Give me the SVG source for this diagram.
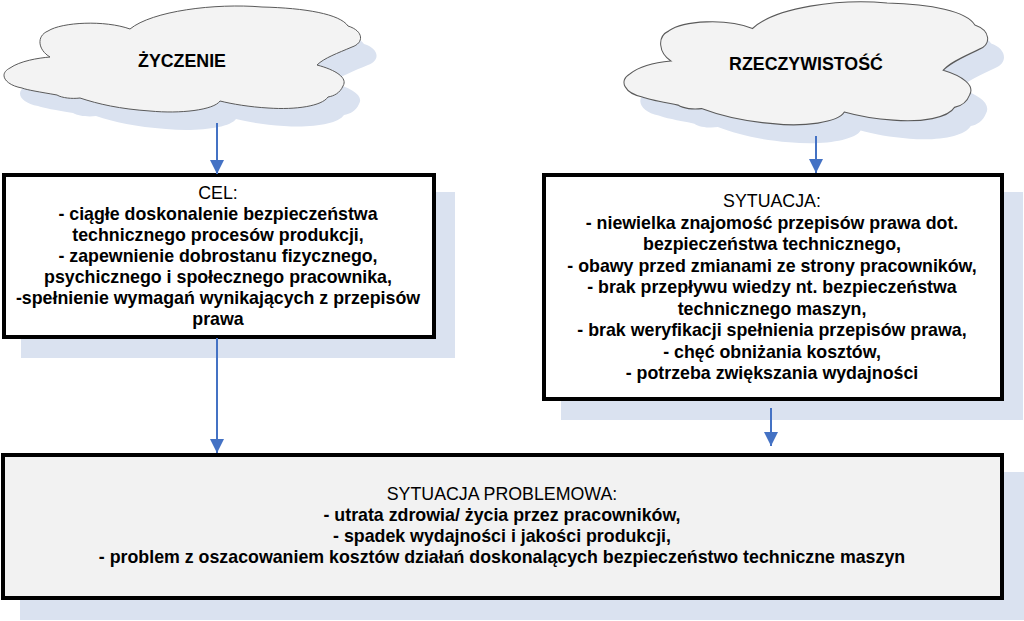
<svg xmlns="http://www.w3.org/2000/svg" width="1024" height="621" viewBox="0 0 1024 621">
  <style>
    .shadow { fill: #dae2f0; stroke: none; }
    .box { stroke: #000; stroke-width: 4; }
    .cloud { fill: #f3f3f3; stroke: #5a5a5a; stroke-width: 1; }
    .t { font-family: "Liberation Sans", Arial, sans-serif; font-size: 17.8px; fill: #000; text-anchor: middle; }
    .b { font-weight: bold; }
    .conn { stroke: #4472c4; stroke-width: 2; fill: none; marker-end: url(#ah); }
  </style>
  <defs>
    <path id="cloudShape" d="M 50,57 C 38,50 36,36 48,31 C 62,22 105,20 130,29 C 152,11 215,3 262,7 C 305,8 340,14 348,26 C 364,31 364,43 352,47 C 338,53 324,58 317,65 C 336,70 348,78 343,86 C 340,93 334,96 328,97 C 322,106 296,110 268,108 C 250,107 232,104 220,101 C 214,110 180,114 150,111 C 120,109 98,104 80,98 C 72,99 62,98 57,95 C 40,92 27,90 22,88 C 5,85 -2,74 10,68 C 20,61 38,58 50,57 Z"/>
    <marker id="ah" markerUnits="userSpaceOnUse" markerWidth="14" markerHeight="14" viewBox="0 0 14 14" refX="14" refY="7" orient="auto">
      <path d="M0,0 L14,7 L0,14 Z" fill="#4472c4"/>
    </marker>
  </defs>
  <rect width="1024" height="621" fill="#fff"/>

  <g id="zyczenie">
    <use href="#cloudShape" class="shadow" transform="translate(16,18)"/>
    <use href="#cloudShape" class="cloud"/>
    <text class="t b" x="182" y="67">ŻYCZENIE</text>
  </g>

  <g id="rzeczywistosc">
    <g transform="translate(625,3) scale(1.02,1.16) translate(-5,-7)">
      <use href="#cloudShape" class="shadow" transform="translate(16,16)"/>
      <use href="#cloudShape" class="cloud" vector-effect="non-scaling-stroke"/>
    </g>
    <text class="t b" x="806" y="70">RZECZYWISTOŚĆ</text>
  </g>

  <g id="cel">
    <rect class="shadow" x="21" y="192" width="434" height="166"/>
    <rect class="box" x="4" y="175" width="430" height="162" fill="#fff"/>
    <text class="t" x="218" y="199">CEL:</text>
    <text class="t b" x="218" y="220">- ciągłe doskonalenie bezpieczeństwa</text>
    <text class="t b" x="218" y="241">technicznego procesów produkcji,</text>
    <text class="t b" x="218" y="262">- zapewnienie dobrostanu fizycznego,</text>
    <text class="t b" x="218" y="283">psychicznego i społecznego pracownika,</text>
    <text class="t b" x="218" y="304">-spełnienie wymagań wynikających z przepisów</text>
    <text class="t b" x="218" y="325">prawa</text>
  </g>

  <g id="sytuacja">
    <rect class="shadow" x="561" y="192" width="462" height="228"/>
    <rect class="box" x="544" y="175" width="458" height="224" fill="#fff"/>
    <text class="t" x="772" y="207">SYTUACJA:</text>
    <text class="t b" x="772" y="228.5">- niewielka znajomość przepisów prawa dot.</text>
    <text class="t b" x="772" y="250">bezpieczeństwa technicznego,</text>
    <text class="t b" x="772" y="271.5">- obawy przed zmianami ze strony pracowników,</text>
    <text class="t b" x="772" y="293">- brak przepływu wiedzy nt. bezpieczeństwa</text>
    <text class="t b" x="772" y="314.5">technicznego maszyn,</text>
    <text class="t b" x="772" y="336">- brak weryfikacji spełnienia przepisów prawa,</text>
    <text class="t b" x="772" y="357.5">- chęć obniżania kosztów,</text>
    <text class="t b" x="772" y="379">- potrzeba zwiększania wydajności</text>
  </g>

  <g id="sytuacja-problemowa">
    <rect class="shadow" x="20" y="472" width="1004" height="148"/>
    <rect class="box" x="3" y="455" width="999" height="143" fill="#f2f2f2"/>
    <text class="t" x="502" y="500">SYTUACJA PROBLEMOWA:</text>
    <text class="t b" x="502" y="521">- utrata zdrowia/ życia przez pracowników,</text>
    <text class="t b" x="502" y="542">- spadek wydajności i jakości produkcji,</text>
    <text class="t b" x="502" y="563">- problem z oszacowaniem kosztów działań doskonalących bezpieczeństwo techniczne maszyn</text>
  </g>

  <g id="connectors">
    <line class="conn" x1="217" y1="123" x2="217" y2="174"/>
    <line class="conn" x1="816" y1="136" x2="816" y2="173"/>
    <line class="conn" x1="217" y1="338" x2="217" y2="453"/>
    <line class="conn" x1="771" y1="408" x2="771" y2="446"/>
  </g>
</svg>
